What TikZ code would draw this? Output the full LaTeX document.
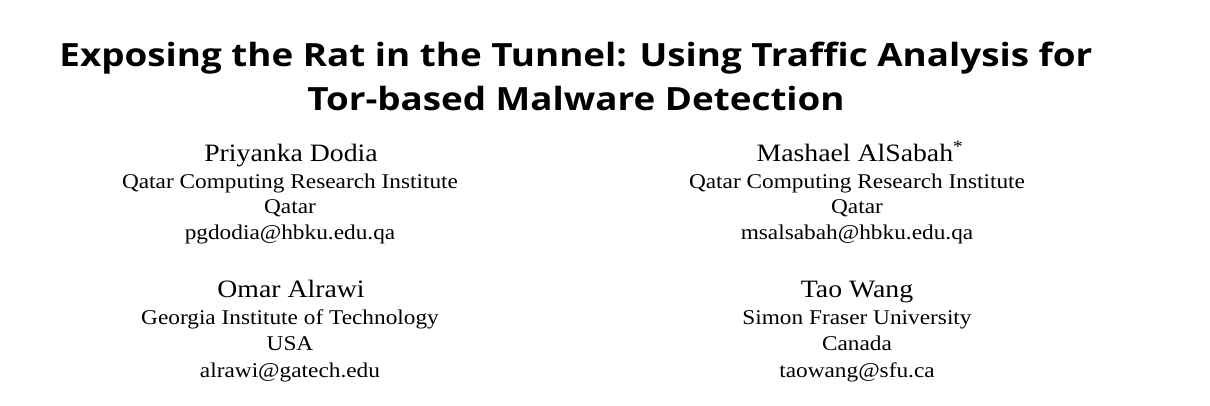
\documentclass[tikz,border=0pt]{standalone}
\usepackage{fontspec}
\setmainfont{Liberation Serif}[FakeStretch=1.11]
\newfontfamily\titlefont{Open Sans}[FakeStretch=1.15]
\begin{document}
\begin{tikzpicture}[x=1pt,y=-1pt,
  ttl/.style={anchor=base, inner sep=0, font=\titlefont\bfseries\fontsize{32}{36}\selectfont},
  aname/.style={anchor=base, inner sep=0, font=\fontsize{25}{28}\selectfont},
  affil/.style={anchor=base, inner sep=0, font=\fontsize{21}{24}\selectfont}]
\useasboundingbox (0,0) rectangle (1210,406);
% title
\node[ttl] (ttl1) at (576,67){Exposing the Rat in the Tunnel: Using Traffic Analysis for};
\node[ttl] (ttl2) at (576,111){Tor-based Malware Detection};
% first row of authors
\node[aname] (au1) at (291,162){Priyanka Dodia};
\node[affil] (inst1) at (290,189){Qatar Computing Research Institute};
\node[affil] (ctry1) at (290,214){Qatar};
\node[affil] (mail1) at (290,240){pgdodia@hbku.edu.qa};
\node[aname] (au2) at (860,162){Mashael AlSabah\textsuperscript{*}};
\node[affil] (inst2) at (857,189){Qatar Computing Research Institute};
\node[affil] (ctry2) at (857,214){Qatar};
\node[affil] (mail2) at (857,240){msalsabah@hbku.edu.qa};
% second row of authors
\node[aname] (au3) at (291,297){Omar Alrawi};
\node[affil] (inst3) at (290,324){Georgia Institute of Technology};
\node[affil] (ctry3) at (290,350){USA};
\node[affil] (mail3) at (290,377){alrawi@gatech.edu};
\node[aname] (au4) at (857,297){Tao Wang};
\node[affil] (inst4) at (857,324){Simon Fraser University};
\node[affil] (ctry4) at (857,350){Canada};
\node[affil] (mail4) at (857,377){taowang@sfu.ca};
\end{tikzpicture}
\end{document}
